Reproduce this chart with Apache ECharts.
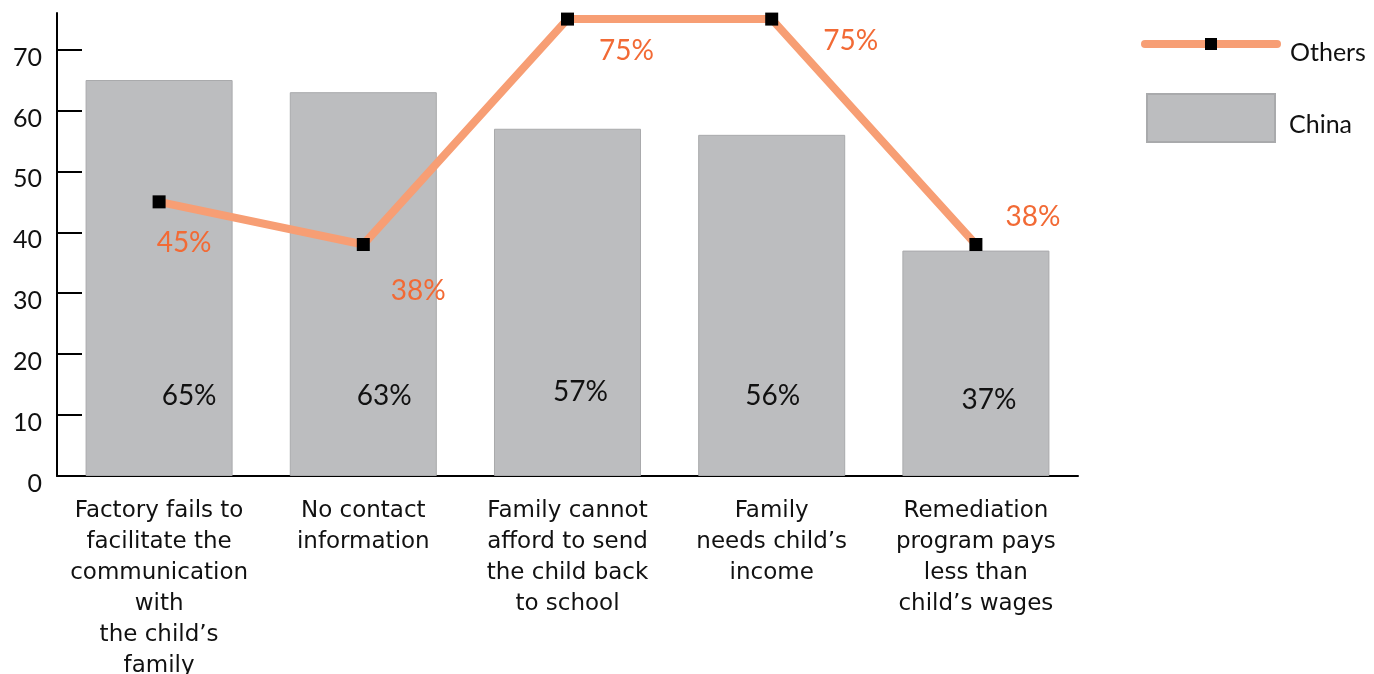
<!DOCTYPE html>
<html>
<head>
<meta charset="utf-8">
<script src="https://cdn.jsdelivr.net/npm/echarts@6/dist/echarts.min.js"></script>
<style>
  html, body { margin: 0; padding: 0; background: #fff; }
  #chart { width: 1374px; height: 674px; }
</style>
</head>
<body>
<div id="chart"></div>
<script>
// 数据
const categories = [
  'Factory fails to\nfacilitate the\ncommunication\nwith\nthe child’s\nfamily',
  'No contact\ninformation',
  'Family cannot\nafford to send\nthe child back\nto school',
  'Family\nneeds child’s\nincome',
  'Remediation\nprogram pays\nless than\nchild’s wages'
];
const chinaValues = [65, 63, 57, 56, 37];
const othersValues = [45, 38, 75, 75, 38];
const yTicks = [0, 10, 20, 30, 40, 50, 60, 70];

// label placement (style only)
const othersLabelOffsets = [[25, 41], [55, 46], [59, 32], [79, 22], [57, -28]];
const chinaLabelOffsets = [[30, 0], [21, 0], [13, -4], [1, 0], [13, 4]];

const FONT = 'Lato';
const CAT_FONT = 'DejaVu Sans';

const chart = echarts.init(document.getElementById('chart'));

const option = {
  animation: false,
  textStyle: { fontFamily: FONT },
  grid: { left: 57, right: 296, top: 13, bottom: 198, containLabel: false, outerBoundsMode: 'none' },
  legend: [
    {
      data: ['Others'],
      left: 1136,
      top: 33,
      itemWidth: 132,
      itemHeight: 15,
      lineStyle: { width: 8, color: '#F79E74', cap: 'round' },
      formatter: '{t|{name}}',
      textStyle: {
        rich: { t: { fontFamily: FONT, fontSize: 25, color: '#111', padding: [18, 0, 0, 8] } }
      }
    },
    {
      data: [{ name: 'China', icon: 'rect' }],
      left: 1141,
      top: 88,
      itemWidth: 128,
      itemHeight: 48,
      formatter: '{t|{name}}',
      textStyle: {
        rich: { t: { fontFamily: FONT, fontSize: 25, color: '#111', padding: [14, 0, 0, 9] } }
      }
    }
  ],
  xAxis: {
    type: 'category',
    data: categories,
    axisLine: { lineStyle: { color: '#000', width: 2 } },
    axisTick: { inside: true, length: 10, lineStyle: { color: '#000', width: 2 } },
    axisLabel: {
      interval: 0,
      margin: 20,
      fontFamily: CAT_FONT,
      fontSize: 23,
      lineHeight: 31,
      color: '#111',
      align: 'center'
    }
  },
  yAxis: {
    type: 'value',
    min: 0,
    max: 76,
    interval: 10,
    splitLine: { show: false },
    axisLine: { show: true, lineStyle: { color: '#000', width: 2 } },
    axisTick: { show: true, inside: true, length: 25, lineStyle: { color: '#000', width: 2 } },
    axisLabel: {
      showMaxLabel: false,
      margin: 15,
      fontFamily: FONT,
      fontSize: 25,
      color: '#111',
      verticalAlign: 'top',
      lineHeight: 16,
      formatter: v => (yTicks.indexOf(v) >= 0 ? String(v) : '')
    }
  },
  series: [
    {
      name: 'China',
      type: 'bar',
      barWidth: '72%',
      data: chinaValues.map((v, i) => ({
        value: v,
        label: { offset: chinaLabelOffsets[i] }
      })),
      itemStyle: { color: '#BCBDBF', borderColor: '#A9AAAC', borderWidth: 1 },
      label: {
        show: true,
        position: 'insideBottom',
        distance: 66,
        formatter: p => p.value + '%',
        fontFamily: FONT,
        fontSize: 28,
        color: '#111'
      },
      z: 2
    },
    {
      name: 'Others',
      type: 'line',
      data: othersValues.map((v, i) => ({
        value: v,
        label: { offset: othersLabelOffsets[i] }
      })),
      symbol: 'rect',
      symbolSize: 13,
      lineStyle: { color: '#F79E74', width: 8, cap: 'round' },
      itemStyle: { color: '#000', borderWidth: 0 },
      label: {
        show: true,
        position: 'inside',
        formatter: p => p.value + '%',
        fontFamily: FONT,
        fontSize: 28,
        color: '#F26A35'
      },
      z: 3
    }
  ]
};

chart.setOption(option);
window.addEventListener('resize', () => {
  chart.resize();
});
</script>
</body>
</html>
